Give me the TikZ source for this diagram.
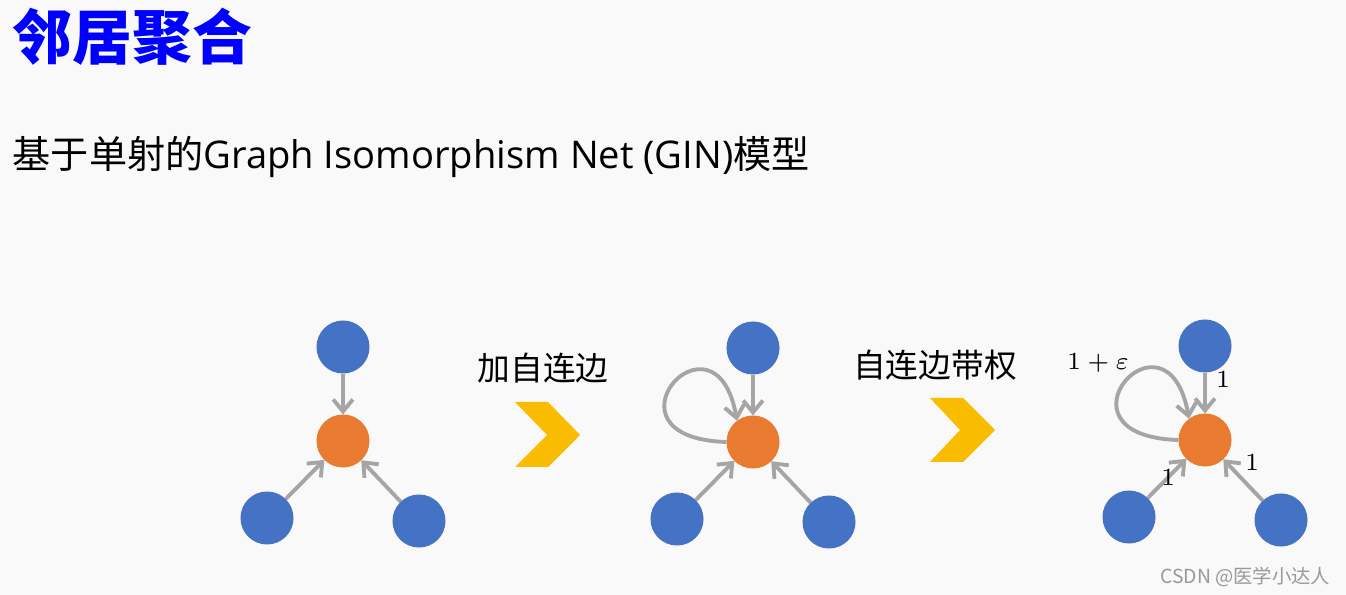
\documentclass[tikz,border=0pt]{standalone}
\usepackage{fontspec}
\usetikzlibrary{arrows.meta}
\newfontfamily\cjk{Noto Sans CJK SC}
\newfontfamily\latino{Open Sans}
\definecolor{nodoblu}{RGB}{68,114,196}
\definecolor{nodoarancio}{RGB}{233,123,48}
\definecolor{grigio}{RGB}{165,165,165}
\definecolor{giallo}{RGB}{250,188,0}
\definecolor{sfondo}{RGB}{249,249,249}

\begin{document}
\begin{tikzpicture}[x=0.01cm, y=-0.01cm,
  nodo/.style={circle, inner sep=0pt, outer sep=0pt, minimum size=0.53cm},
  vicino/.style={nodo, fill=nodoblu},
  centro/.style={nodo, fill=nodoarancio},
  freccia/.style={draw=grigio, line width=1.1pt, -{Straight Barb[length=3.4pt, width=5.6pt]}},
  peso/.style={inner sep=0pt, font=\fontsize{6.6}{7}\selectfont},
  scritta/.style={inner sep=0pt, font=\cjk\fontsize{9.3}{11}\selectfont}]
  \fill[sfondo] (0,0) rectangle (1346,595);

  \node[inner sep=0pt, anchor=west, text=blue, font=\cjk\bfseries\fontsize{17}{20}\selectfont] (titolo) at (12,37) {邻居聚合};
  \node[inner sep=0pt, anchor=west, font=\fontsize{10.85}{13}\selectfont] (sottotitolo) at (12,157) {{\cjk 基于单射的}{\latino Graph Isomorphism Net (GIN)}{\cjk 模型}};

  % tre grafi: centro e vicini (alto, sinistra, destra)
  \foreach \i/\x/\y in {1/343/441, 2/753/442, 3/1205/440} {
    \node[centro] (c\i) at (\x,\y) {};
    \node[vicino] (a\i) at (\x,\y-94) {};
    \node[vicino] (s\i) at (\x-76,\y+77) {};
    \node[vicino] (d\i) at (\x+76,\y+80) {};
    \draw[freccia] (a\i) -- (c\i);
    \draw[freccia] (s\i) -- (c\i);
    \draw[freccia] (d\i) -- (c\i);
  }
  % autoanelli
  \foreach \i in {2,3}
    \draw[freccia] (c\i.west) .. controls +(-135,-4) and +(-22,-122) .. (c\i.127);

  % frecce gialle
  \fill[giallo] (515,402) -- (548,402) -- (580,435) -- (548,467) -- (515,467) -- (547,435) -- cycle;
  \fill[giallo] (930,398) -- (963,398) -- (995,430) -- (963,462) -- (930,462) -- (960,430) -- cycle;

  \node[scritta] (passo1) at (543,368) {加自连边};
  \node[scritta] (passo2) at (935,365) {自连边带权};

  % pesi
  \node[peso] (p1) at (1223,380) {$1$};
  \node[peso] (p2) at (1168,478) {$1$};
  \node[peso] (p3) at (1252,463) {$1$};
  \node[peso] (p4) at (1098,363) {$1+\varepsilon$};

  \node[inner sep=0pt, anchor=east, text=black!40, font=\cjk\fontsize{5.5}{6}\selectfont] (firma) at (1331,577) {CSDN @医学小达人};
\end{tikzpicture}
\end{document}
